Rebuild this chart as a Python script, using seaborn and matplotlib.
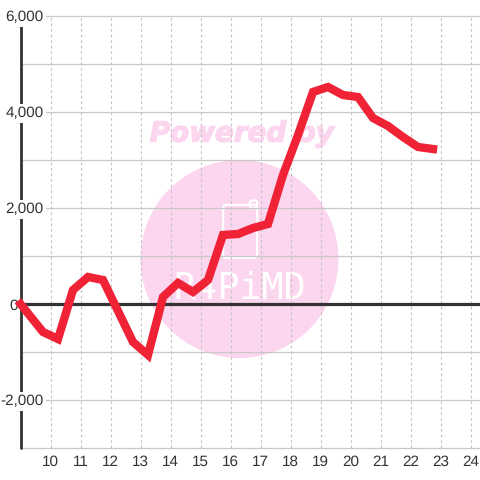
import matplotlib
matplotlib.use("Agg")
import matplotlib.pyplot as plt
from matplotlib.patches import Ellipse, FancyBboxPatch
import matplotlib.patheffects as pe
import seaborn as sns
import pandas as pd

hours = [9, 9.75, 10.25, 10.75, 11.25, 11.75, 12.25, 12.75, 13.25, 13.75, 14.25, 14.75,
         15.25, 15.75, 16.25, 16.75, 17.25, 17.75, 18.25, 18.75, 19.25, 19.75, 20.25,
         20.75, 21.25, 21.75, 22.25, 22.75]
values = [0, -583, -729, 292, 563, 500, -146, -792, -1062, 146, 438, 250,
          500, 1438, 1458, 1583, 1667, 2688, 3520, 4417, 4521, 4354, 4312,
          3875, 3708, 3479, 3271, 3229]
x_ticks = list(range(10, 25))
y_major = [-2000, 0, 2000, 4000, 6000]
y_grid = [-3000, -2000, -1000, 0, 1000, 2000, 3000, 4000, 5000, 6000]

sns.set_theme(style="white")
plt.rcParams['font.family'] = ['Liberation Sans', 'DejaVu Sans']
plt.rcParams['text.hinting'] = 'no_hinting'
fig = plt.figure(figsize=(4.8, 4.8), dpi=100)
ax = fig.add_axes([20.5/480, 32/480, 459.5/480, 432/480])
ax.set_xlim(9, 9 + 459.5/30)
ax.set_ylim(-3000, 6000)
for s in ax.spines.values():
    s.set_visible(False)

ax.set_yticks(y_major)
ax.set_yticklabels([f"{v:,}" for v in y_major])
ax.set_xticks(x_ticks)
ax.tick_params(axis='both', length=0, labelsize=11, labelcolor='#333333')
ax.tick_params(axis='x', pad=5)
for t, v in zip(ax.yaxis.get_major_ticks(), y_major):
    t.set_pad(2 if v == 0 else -16.6)
    t.label1.set_bbox(dict(fc='white', ec='none', pad=1.5))
ax.yaxis.set_zorder(3)
ax.xaxis.set_zorder(1.5)
ax.grid(axis='x', color='#c4c4c4', lw=0.8, ls=(0, (2.5, 2.5)))
ax.grid(axis='y', visible=False)
ax.hlines(y_grid, 9, ax.get_xlim()[1], color='#c8c8c8', lw=0.9, zorder=2, clip_on=False)

# watermark
ax.add_patch(Ellipse((0.4765, 0.4375), 198/459.5, 198/432, transform=ax.transAxes,
                     fc='#fcd5ee', ec='none', zorder=0.5))
ax.text(0.4815, 0.727, "Powered by", transform=ax.transAxes, ha='center', va='center',
        fontsize=20, fontweight='bold', style='italic', color='#fcd5ee', family='DejaVu Sans', zorder=0.6,
        path_effects=[pe.withStroke(linewidth=1.0, foreground='#fcd5ee')])
ax.add_patch(FancyBboxPatch((0.441, 0.44), 0.074, 0.1227, boxstyle="round,pad=0,rounding_size=0.008",
             transform=ax.transAxes, fc='none', ec='white', lw=1.6, zorder=0.7))
ax.add_patch(FancyBboxPatch((0.499, 0.555), 0.016, 0.018, boxstyle="round,pad=0,rounding_size=0.005",
             transform=ax.transAxes, fc='none', ec='white', lw=1.6, zorder=0.7))
ax.text(0.478, 0.368, "R4PiMD", transform=ax.transAxes, ha='center', va='center', fontsize=26.5,
        color='white', family='DejaVu Sans Mono', zorder=0.7)

ax.axvline(9, color='#333333', lw=2, zorder=2.5, clip_on=False)
ax.axhline(0, color='#333333', lw=2.3, zorder=2.6)

df = pd.DataFrame({"hour": hours, "value": values})
sns.lineplot(data=df, x="hour", y="value", ax=ax, color='#f02236', lw=6, zorder=4,
             errorbar=None, solid_joinstyle='miter', solid_capstyle='projecting', clip_on=False)
ax.set_xlabel("")
ax.set_ylabel("")
fig.savefig("out.png", dpi=100)
